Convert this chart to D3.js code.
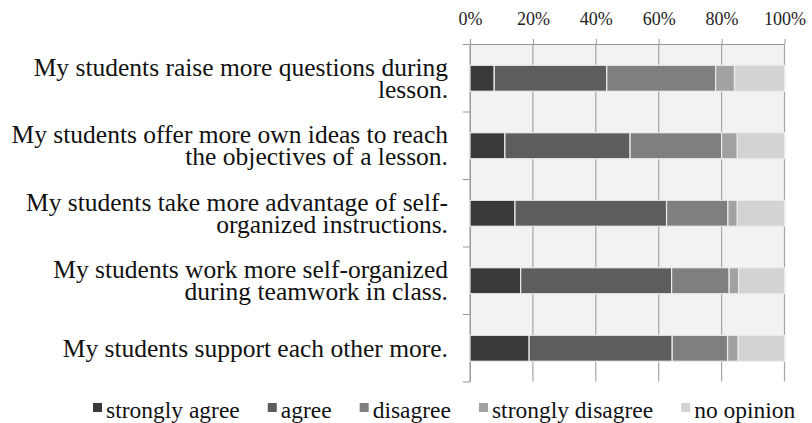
<!DOCTYPE html>
<html lang="en">
<head>
  <meta charset="UTF-8">
  <title>Teacher survey</title>
  <script src="https://cdn.jsdelivr.net/npm/d3@7"></script>
  <style>
    html, body { margin: 0; padding: 0; background: #fff; }
    svg { display: block; }
  </style>
</head>
<body>
<svg width="812" height="423"></svg>
<script>
// statements, one array of lines per bar
var categories = [
  ["My students raise more questions during", "lesson."],
  ["My students offer more own ideas to reach", "the objectives of a lesson."],
  ["My students take more advantage of self-", "organized instructions."],
  ["My students work more self-organized", "during teamwork in class."],
  ["My students support each other more."]
];
var seriesNames = ["strongly agree", "agree", "disagree", "strongly disagree", "no opinion"];
// percentages
var stronglyAgree    = [7.7, 11.1, 14.3, 16.1, 18.8];
var agree            = [35.8, 39.8, 48.2, 48.0, 45.5];
var disagree         = [34.6, 29.1, 19.5, 18.3, 17.6];
var stronglyDisagree = [6.0, 5.0, 3.0, 3.0, 3.4];
var noOpinion        = [15.9, 15.0, 15.0, 14.6, 14.7];
var xTicks = [0, 20, 40, 60, 80, 100];

var colors = ["#393939", "#5d5d5d", "#7f7f7f", "#a1a1a1", "#d3d3d3"];
var serif = "'Liberation Serif', 'Times New Roman', serif";

(function () {
  var seriesValues = [stronglyAgree, agree, disagree, stronglyDisagree, noOpinion];
  var rows = categories.map(function (c, i) {
    var r = { idx: i };
    seriesNames.forEach(function (s, j) { r[s] = seriesValues[j][i]; });
    return r;
  });

  var svg = d3.select("svg").attr("font-family", serif);
  var plotLeft = 470, plotRight = 784.5, plotTop = 44, plotBottom = 381.5;

  var x = d3.scaleLinear().domain([0, 100]).range([plotLeft, plotRight]);
  var y = d3.scaleBand()
    .domain(d3.range(categories.length))
    .range([plotTop, plotBottom])
    .paddingInner(0.615)
    .paddingOuter(0.3075);
  var yEdge = d3.scaleLinear().domain([0, categories.length]).range([plotTop, plotBottom]);
  var color = d3.scaleOrdinal().domain(seriesNames).range(colors);

  // plot background
  svg.append("rect")
    .attr("x", plotLeft).attr("y", plotTop)
    .attr("width", plotRight - plotLeft)
    .attr("height", y(categories.length - 1) + y.bandwidth() - plotTop)
    .attr("fill", "#f2f2f2");

  // vertical gridlines
  svg.append("g").selectAll("line")
    .data(xTicks)
    .enter().append("line")
    .attr("x1", function (d) { return x(d); })
    .attr("x2", function (d) { return x(d); })
    .attr("y1", plotTop).attr("y2", plotBottom)
    .attr("stroke", "#a6a6a6")
    .attr("stroke-width", 1.2);

  // top axis
  var xAxis = svg.append("g")
    .attr("transform", "translate(0," + plotTop + ")")
    .call(d3.axisTop(x).tickValues(xTicks).tickSize(5).tickSizeOuter(0).tickPadding(14)
      .tickFormat(function (d) { return d + "%"; }));
  xAxis.attr("font-family", serif).attr("font-size", 18);
  xAxis.select(".domain").attr("stroke", "#9a9a9a");
  xAxis.selectAll(".tick line").attr("stroke", "#9a9a9a");
  xAxis.selectAll("text").attr("fill", "#222");

  // left axis with ticks between categories
  var yAxis = svg.append("g")
    .attr("transform", "translate(" + plotLeft + ",0)")
    .call(d3.axisLeft(yEdge).tickValues(d3.range(categories.length + 1)).tickSize(7).tickSizeOuter(0)
      .tickFormat(""));
  yAxis.select(".domain").attr("stroke", "#9a9a9a");
  yAxis.selectAll(".tick line").attr("stroke", "#9a9a9a");

  // stacked bars
  var stacked = d3.stack().keys(seriesNames)(rows);
  svg.append("g").selectAll("g")
    .data(stacked)
    .enter().append("g")
    .attr("fill", function (d) { return color(d.key); })
    .selectAll("rect")
    .data(function (d) { return d; })
    .enter().append("rect")
    .attr("x", function (d) { return x(d[0]); })
    .attr("y", function (d) { return y(d.data.idx) + 0.5; })
    .attr("width", function (d) { return x(d[1]) - x(d[0]); })
    .attr("height", y.bandwidth())
    .attr("stroke", "#ececec")
    .attr("stroke-width", 1.2);

  // category labels
  var lineH = 21.7;
  var labels = svg.append("g")
    .attr("font-family", serif)
    .attr("font-size", 25.5)
    .attr("fill", "#111")
    .attr("text-anchor", "end");
  categories.forEach(function (lines, i) {
    var cy = y(i) + y.bandwidth() / 2 + 0.5;
    var t = labels.append("text")
      .attr("x", 448)
      .attr("y", cy - (lines.length - 1) * lineH / 2);
    lines.forEach(function (ln, k) {
      t.append("tspan")
        .attr("x", 448)
        .attr("dy", k === 0 ? "0.33em" : lineH)
        .text(ln);
    });
  });

  // legend
  var legend = svg.append("g")
    .attr("font-family", serif)
    .attr("font-size", 23.5)
    .attr("fill", "#111");
  var lx = 93;
  seriesNames.forEach(function (s) {
    legend.append("rect")
      .attr("x", lx).attr("y", 403)
      .attr("width", 9).attr("height", 9)
      .attr("fill", color(s));
    var t = legend.append("text")
      .attr("x", lx + 13)
      .attr("y", 418)
      .text(s);
    lx = lx + 13 + t.node().getComputedTextLength() + 28;
  });
})();
</script>
</body>
</html>
